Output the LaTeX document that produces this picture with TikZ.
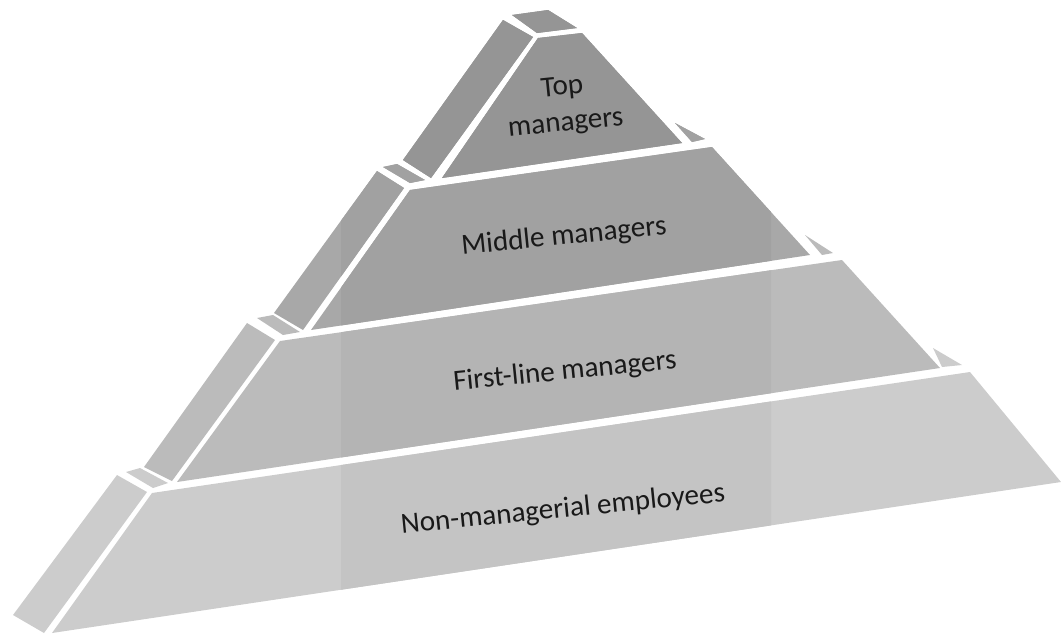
\documentclass[tikz,border=0pt]{standalone}
\usepackage{fontspec}
\setmainfont{Carlito}
\usepackage{xcolor}
\definecolor{tierbase}{HTML}{CCCCCC}
\definecolor{tierfirst}{HTML}{BBBBBB}
\definecolor{tiermiddle}{HTML}{A8A8A8}
\definecolor{tiertop}{HTML}{959595}

% the four tiers, bottom first (coordinates in pixels)
\newcommand{\drawtiers}{%
  % --- Base tier ---
  \fill[tierbase] (152,493) -- (970,372) -- (1061,482) -- (52,633) -- cycle;
  \fill[tierbase] (117,475) -- (147,492) -- (44,633) -- (13,615) -- cycle;
  \fill[tierbase] (126,472) -- (140,468) -- (168,483) -- (153,488) -- cycle;
  \fill[tierbase] (933,348) -- (962,365) -- (942,367) -- cycle;
  % --- First-line tier ---
  \fill[tierfirst] (280,341) -- (842,260) -- (940,368) -- (177,482) -- cycle;
  \fill[tierfirst] (247,323) -- (275,340) -- (172,481) -- (144,467) -- cycle;
  \fill[tierfirst] (257,318) -- (273,315) -- (300,332) -- (283,335) -- cycle;
  \fill[tierfirst] (805,235) -- (833,253) -- (822,255) -- cycle;
  % --- Middle tier ---
  \fill[tiermiddle] (410,190) -- (712,147) -- (810,255) -- (311,330) -- cycle;
  \fill[tiermiddle] (377,171) -- (404,188) -- (303,330) -- (274,313) -- cycle;
  \fill[tiermiddle] (383,167) -- (397,164) -- (425,180) -- (410,183) -- cycle;
  \fill[tiermiddle] (675,123) -- (705,139) -- (692,142) -- cycle;
  % --- Top tier ---
  \fill[tiertop] (538,38) -- (582,33) -- (682,143) -- (442,178) -- cycle;
  \fill[tiertop] (503,20) -- (533,37) -- (431,178) -- (403,160) -- cycle;
  \fill[tiertop] (512,15) -- (548,10) -- (577,28) -- (537,33) -- cycle;
}

\tikzset{
  tierlabel/.style={font=\fontsize{16.6}{20.5}\selectfont, text=black!90,
    rotate=5.7, align=center, inner sep=0pt}
}

\begin{document}
\begin{tikzpicture}[x=0.02cm, y=-0.02cm]
\useasboundingbox (0,0) rectangle (1061,633);

\drawtiers

% slightly darker vertical band in the middle
\begin{scope}
  \clip (341,0) rectangle (771,633);
  \colorlet{tierbase}{tierbase!96!black}
  \colorlet{tierfirst}{tierfirst!96!black}
  \colorlet{tiermiddle}{tiermiddle!96!black}
  \drawtiers
\end{scope}

% Labels
\node[tierlabel] (toplbl) at (564,106) {Top\\managers};
\node[tierlabel] (midlbl) at (564,237) {Middle managers};
\node[tierlabel] (firstlbl) at (565,372) {First-line managers};
\node[tierlabel] (baselbl) at (563,510) {Non-managerial employees};
\end{tikzpicture}
\end{document}
